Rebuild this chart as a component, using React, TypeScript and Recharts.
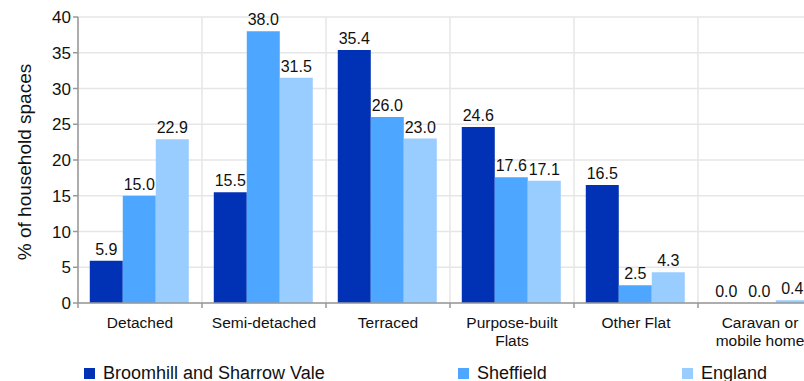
// Household spaces by accommodation type: Broomhill and Sharrow Vale vs Sheffield vs England

import { BarChart, Bar, XAxis, YAxis, CartesianGrid, LabelList, Legend } from 'recharts'

const categories = ['Detached', 'Semi-detached', 'Terraced', 'Purpose-built\nFlats', 'Other Flat', 'Caravan or\nmobile home']
const broomhill = [5.9, 15.5, 35.4, 24.6, 16.5, 0.0]
const sheffield = [15.0, 38.0, 26.0, 17.6, 2.5, 0.0]
const england = [22.9, 31.5, 23.0, 17.1, 4.3, 0.4]
const yTicks = [0, 5, 10, 15, 20, 25, 30, 35, 40]

const seriesNames = ['Broomhill and Sharrow Vale', 'Sheffield', 'England']
const colors = ['#0131b4', '#4da6ff', '#99ccff']

const data = categories.map((c, i) => ({
    name: c,
    [seriesNames[0]]: broomhill[i],
    [seriesNames[1]]: sheffield[i],
    [seriesNames[2]]: england[i],
}))

const CHART_W = 822
const AXIS_W = 78
const halfBand = (CHART_W - AXIS_W) / categories.length / 2
const font = '"Liberation Sans", Arial, sans-serif'

function CategoryTick(props: any) {
    const { x, y, payload } = props
    const lines = String(payload.value).split('\n')
    return (
        <g>
            <line x1={x - halfBand} x2={x - halfBand} y1={y - 8} y2={y - 3} stroke="#999" strokeWidth={1.5} />
            <text x={x} y={y + 17} textAnchor="middle" fontSize={15.5} fill="#111" fontFamily={font}>
                {lines.map((l, i) => (
                    <tspan key={i} x={x} dy={i === 0 ? 0 : 18}>{l}</tspan>
                ))}
            </text>
        </g>
    )
}

function LegendRow() {
    const pos = [84, 458, 682]
    return (
        <div style={{ position: 'relative', height: 24, fontFamily: font, fontSize: 18, color: '#111' }}>
            {seriesNames.map((n, i) => (
                <div key={n} style={{ position: 'absolute', left: pos[i], top: 0, height: 24, display: 'flex', alignItems: 'center' }}>
                    <span style={{ display: 'inline-block', width: 11, height: 11, background: colors[i], marginRight: 8 }} />
                    <span>{n}</span>
                </div>
            ))}
        </div>
    )
}

export default function App() {
    return (
        <div style={{ width: 804, height: 381, overflow: 'hidden' }}>
            <style>{'body{margin:0;overflow:hidden}'}</style>
            <BarChart
                width={CHART_W}
                height={381}
                data={data}
                margin={{ top: 17, right: 0, left: 0, bottom: 0 }}
                barCategoryGap="9.5%"
                barGap={0}
            >
                <CartesianGrid
                    stroke="#e6e6e6"
                    strokeWidth={1.5}
                    verticalCoordinatesGenerator={({ offset }: any) =>
                        categories.map((_, i) => offset.left + (offset.width * i) / categories.length).concat([offset.left + offset.width])
                    }
                />
                <XAxis
                    dataKey="name"
                    height={54}
                    tick={<CategoryTick />}
                    tickLine={false}
                    axisLine={{ stroke: '#999', strokeWidth: 1.5 }}
                    interval={0}
                />
                <YAxis
                    width={AXIS_W}
                    domain={[0, 40]}
                    ticks={yTicks}
                    tick={{ fontSize: 17, fill: '#111', fontFamily: font }}
                    tickLine={{ stroke: '#999', strokeWidth: 1.5 }}
                    tickSize={5}
                    axisLine={{ stroke: '#999', strokeWidth: 1.5 }}
                    label={{
                        content: () => (
                            <text
                                x={26}
                                y={162}
                                transform="rotate(-90 26 162)"
                                textAnchor="middle"
                                dominantBaseline="middle"
                                fontSize={19}
                                fill="#111"
                                fontFamily={font}
                            >
                                % of household spaces
                            </text>
                        ),
                    }}
                />
                <Legend content={() => <LegendRow />} wrapperStyle={{ left: 0, top: 361, height: 24, width: 804 }} />
                {seriesNames.map((n, i) => (
                    <Bar
                        key={n}
                        dataKey={n}
                        fill={colors[i]}
                        isAnimationActive={false}
                        minPointSize={(v: any) => (v === 0 ? 0.01 : 0)}
                    >
                        <LabelList
                            dataKey={n}
                            position="top"
                            offset={6}
                            formatter={(v: any) => Number(v).toFixed(1)}
                            style={{ fontSize: 16, fill: '#111', fontFamily: font }}
                        />
                    </Bar>
                ))}
            </BarChart>
        </div>
    )
}
